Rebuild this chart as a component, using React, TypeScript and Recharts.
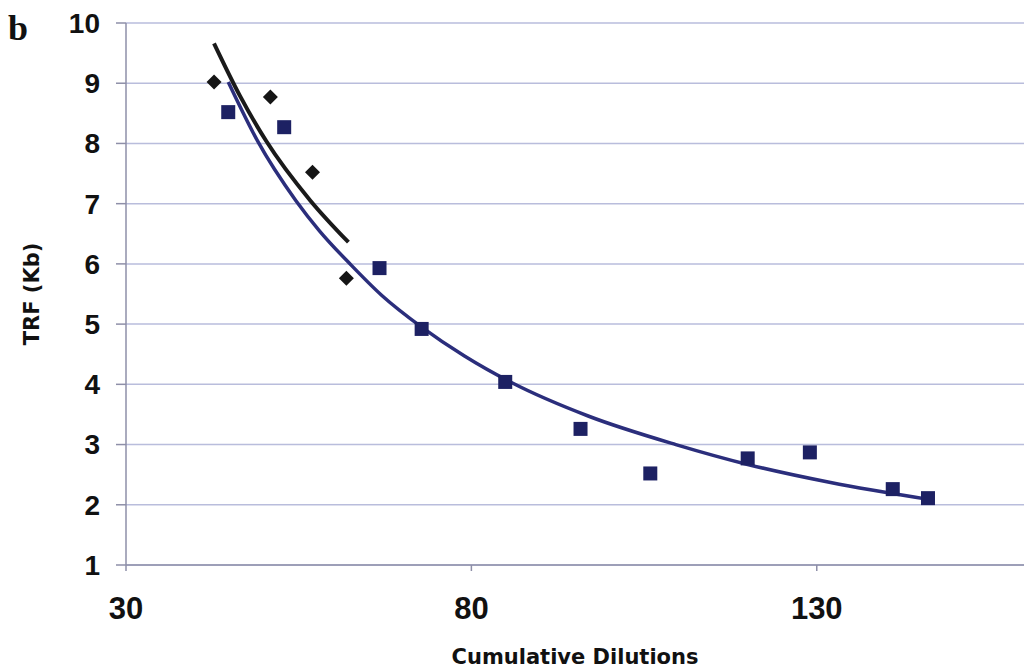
import React from "react"
import {
  ComposedChart,
  Line,
  Scatter,
  XAxis,
  YAxis,
  CartesianGrid,
} from "recharts"

const X_TICKS = [30, 80, 130]
const Y_TICKS = [1, 2, 3, 4, 5, 6, 7, 8, 9, 10]

// blue squares
const SQUARE_X = [44.8, 52.9, 66.7, 72.8, 84.9, 95.8, 105.9, 120, 129, 141, 146.1]
const SQUARE_Y = [8.52, 8.27, 5.93, 4.92, 4.04, 3.26, 2.52, 2.77, 2.87, 2.26, 2.11]

// black diamonds
const DIAMOND_X = [42.75, 50.9, 57, 61.9]
const DIAMOND_Y = [9.02, 8.77, 7.52, 5.76]

// blue trend curve
const BLUE_X = [44.8, 49, 54.6, 58, 62.6, 67, 72.8, 79, 85.8, 97, 109.6, 120, 132, 146.2]
const BLUE_Y = [9.02, 8.05, 7.05, 6.55, 5.98, 5.48, 4.95, 4.47, 4.03, 3.47, 3.0, 2.67, 2.37, 2.09]

// black trend curve
const BLACK_X = [42.75, 46.5, 50.3, 56.7, 62.2]
const BLACK_Y = [9.66, 8.79, 8.04, 7.05, 6.36]

const squares = SQUARE_X.map((x, i) => ({ x, y: SQUARE_Y[i] }))
const diamonds = DIAMOND_X.map((x, i) => ({ x, y: DIAMOND_Y[i] }))
const blueLine = BLUE_X.map((x, i) => ({ x, y: BLUE_Y[i] }))
const blackLine = BLACK_X.map((x, i) => ({ x, y: BLACK_Y[i] }))

const FONT = "'Liberation Sans', Arial, sans-serif"
const HEAVY = "'DejaVu Sans', 'Liberation Sans', sans-serif"

const SquareShape = (props: any) => {
  const { cx, cy } = props
  const s = 14
  return <rect x={cx - s / 2} y={cy - s / 2} width={s} height={s} fill="#1d2163" />
}

const DiamondShape = (props: any) => {
  const { cx, cy } = props
  const r = 7.5
  return (
    <polygon
      points={`${cx},${cy - r} ${cx + r},${cy} ${cx},${cy + r} ${cx - r},${cy}`}
      fill="#151515"
    />
  )
}

export default function App() {
  return (
    <div style={{ position: "absolute", left: 0, top: 0, width: 1024, height: 672, background: "#fff" }}>
      <div
        style={{
          position: "absolute",
          left: 8,
          top: 10,
          fontFamily: "'Liberation Serif', 'DejaVu Serif', serif",
          fontWeight: "bold",
          fontSize: 36,
          color: "#111",
          lineHeight: 1,
        }}
      >
        b
      </div>
      <ComposedChart
        width={1024}
        height={672}
        margin={{ top: 23, right: 0, left: 0, bottom: 0 }}
      >
        <CartesianGrid vertical={false} stroke="#b9bddc" strokeWidth={1.5} />
        <XAxis
          type="number"
          dataKey="x"
          domain={[30, 160]}
          ticks={X_TICKS}
          height={107}
          allowDataOverflow
          stroke="#8e8fa8"
          strokeWidth={1.5}
          tickSize={6}
          tickMargin={26}
          tick={{ fill: "#111", fontSize: 31, fontWeight: "bold", fontFamily: FONT }}
          label={{
            value: "Cumulative Dilutions",
            position: "insideBottom",
            offset: 8,
            style: { fill: "#111", fontSize: 21, fontWeight: "bold", fontFamily: HEAVY },
          }}
        />
        <YAxis
          type="number"
          dataKey="y"
          domain={[1, 10]}
          ticks={Y_TICKS}
          width={126}
          allowDataOverflow
          stroke="#8e8fa8"
          strokeWidth={1.5}
          tickSize={10}
          tickMargin={16}
          tick={{ fill: "#111", fontSize: 28, fontWeight: "bold", fontFamily: FONT }}
          label={{
            value: "TRF (Kb)",
            angle: -90,
            position: "insideLeft",
            offset: 32,
            style: { fill: "#111", fontSize: 21, fontWeight: "bold", fontFamily: HEAVY, textAnchor: "middle" },
          }}
        />
        <Line
          data={blueLine}
          dataKey="y"
          type="monotone"
          stroke="#2b2e7c"
          strokeWidth={3.5}
          dot={false}
          activeDot={false}
          isAnimationActive={false}
        />
        <Line
          data={blackLine}
          dataKey="y"
          type="monotone"
          stroke="#1a1a1a"
          strokeWidth={4}
          dot={false}
          activeDot={false}
          isAnimationActive={false}
        />
        <Scatter data={squares} dataKey="y" shape={SquareShape} isAnimationActive={false} />
        <Scatter data={diamonds} dataKey="y" shape={DiamondShape} isAnimationActive={false} />
      </ComposedChart>
    </div>
  )
}
